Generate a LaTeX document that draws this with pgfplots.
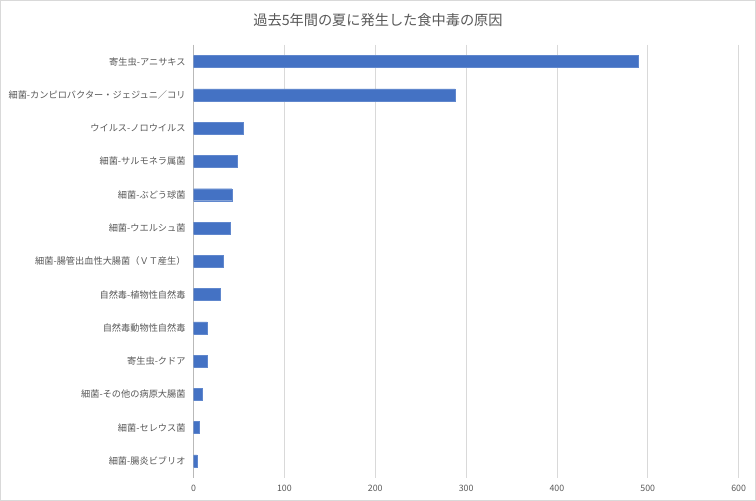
\documentclass[border=0pt]{standalone}
\usepackage{pgfplots}
\pgfplotsset{compat=1.18}
\usepackage{fontspec}
\setmainfont{Noto Sans CJK JP}
\definecolor{barblue}{HTML}{4472C4}
\definecolor{txtgray}{HTML}{595959}
\definecolor{gridgray}{HTML}{D9D9D9}
\definecolor{framegray}{HTML}{D9D9D9}
\begin{document}
\begin{tikzpicture}[x=1bp,y=1bp]
\useasboundingbox (0,0) rectangle (756,501);
\fill[white] (0,0) rectangle (756,501);
\draw[framegray,line width=1.2bp] (0.6,0.6) rectangle (755.4,500.4);
\node[txtgray,font=\fontsize{14.2bp}{16bp}\selectfont] at (378,481) {過去5年間の夏に発生した食中毒の原因};
\begin{axis}[
  at={(193.6bp,23.4bp)}, anchor=south west,
  scale only axis, width=545bp, height=432.6bp,
  xbar, bar width=12bp,
  xmin=0, xmax=600, ymin=-0.5, ymax=12.5,
  y dir=reverse,
  xtick={0,100,...,600},
  ytick={0,...,12},
  yticklabels={寄生虫-アニサキス,細菌-カンピロバクター・ジェジュニ／コリ,ウイルス-ノロウイルス,細菌-サルモネラ属菌,細菌-ぶどう球菌,細菌-ウエルシュ菌,細菌-腸管出血性大腸菌（ＶＴ産生）,自然毒-植物性自然毒,自然毒動物性自然毒,寄生虫-クドア,細菌-その他の病原大腸菌,細菌-セレウス菌,細菌-腸炎ビブリオ},
  axis line style={draw=none},
  major tick length=0pt,
  xmajorgrids, grid style={gridgray,line width=0.8bp},
  tick label style={txtgray,font=\fontsize{9.2bp}{11bp}\selectfont},
  /pgf/number format/assume math mode=true,
  xticklabel style={yshift=-3.5bp,font=\fontsize{8.8bp}{10bp}\selectfont},
  yticklabel style={xshift=-4.5bp},
  extra x ticks={0}, extra x tick labels={},
  extra x tick style={grid style={color=gray!55,line width=0.8bp}},
]
\addplot[fill=barblue,draw=barblue!85] coordinates {
(489,0) (288,1) (55,2) (48,3) (42,4) (40,5) (33,6) (29,7) (15,8) (15,9) (9,10) (6,11) (4,12)
};
\end{axis}
\end{tikzpicture}
\end{document}
